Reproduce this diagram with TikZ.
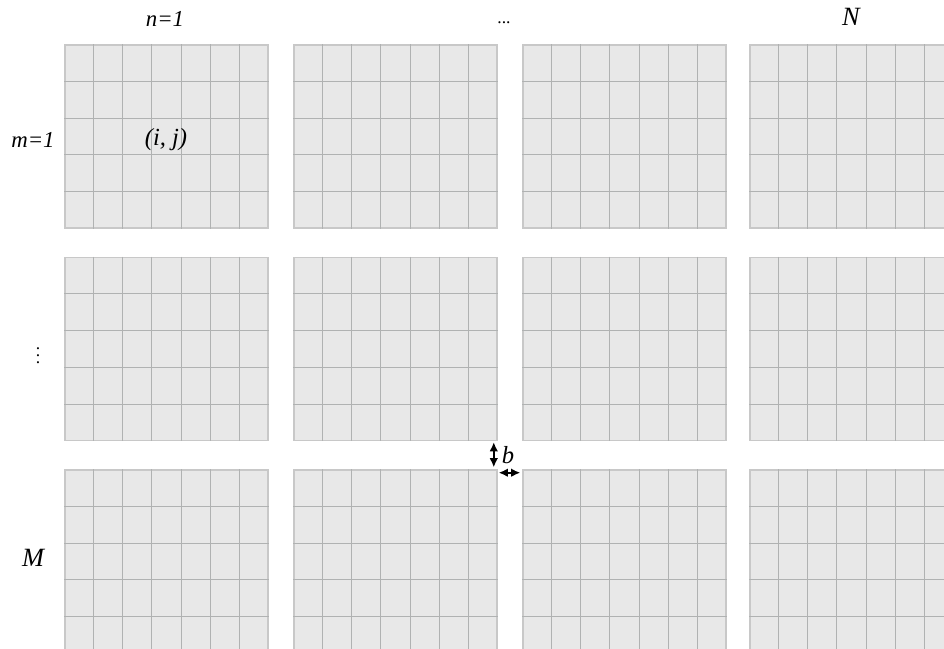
\documentclass[tikz,border=0pt]{standalone}
\usepackage{fontspec}
\setmainfont{Liberation Serif}[ItalicFont={Liberation Serif Italic}]
\usetikzlibrary{arrows.meta,positioning,calc}
\definecolor{cellfill}{RGB}{232,232,232}
\definecolor{cellgray}{RGB}{176,178,178}
\definecolor{panelgray}{RGB}{200,200,200}

\begin{document}
\begin{tikzpicture}[
    x=0.02cm, y=-0.02cm,
    panel/.style={draw=panelgray,fill=cellfill,line width=0.9pt,minimum width=4.06cm,minimum height=3.66cm,inner sep=0pt},
    gridline/.style={draw=cellgray,line width=0.55pt},
    lbl/.style={font=\itshape\fontsize{13}{15}\selectfont,inner sep=1pt},
    biglbl/.style={font=\itshape\fontsize{15}{18}\selectfont,inner sep=1pt},
    arrow/.style={{Latex[length=1.8mm,width=1.7mm]}-{Latex[length=1.8mm,width=1.7mm]},line width=0.9pt}
  ]
    \useasboundingbox (0,0) rectangle (944,649);
    \clip (0,0) rectangle (944,649);

    % 3 x 4 panels of 5 x 7 cells
    \foreach \r/\py in {1/136.5,2/349,3/561.5}
      \foreach \c/\px in {1/166.5,2/395.5,3/624.5,4/851.5} {
        \node[panel] (p\r\c) at (\px,\py) {};
        \foreach \k in {1,...,6}
          \draw[gridline] ($(p\r\c.north west)!\k/7!(p\r\c.north east)$) -- ($(p\r\c.south west)!\k/7!(p\r\c.south east)$);
        \foreach \k in {1,...,4}
          \draw[gridline] ($(p\r\c.north west)!\k/5!(p\r\c.south west)$) -- ($(p\r\c.north east)!\k/5!(p\r\c.south east)$);
      }

    % labels
    \node[lbl] (nfirst) at (165,19) {n=1};
    \node (hdots) at (504,23) {...};
    \node[biglbl] (nlast) at (851,17) {N};
    \node[lbl] (mfirst) at (33,140) {m=1};
    \node[biglbl] (mlast) at (33,558) {M};
    \node (vdots) at (38,350) {$\vdots$};
    \node[lbl,font=\itshape\fontsize{14}{16}\selectfont] (cell) at (166,140) {(i, j)};
    \node[lbl,font=\itshape\fontsize{14}{16}\selectfont] (gap) at (508,455) {b};

    % gap arrows
    \coordinate (vtop) at ($(p22.south east)+(-4,1)$);
    \coordinate (vbot) at ($(p32.north east)+(-4,-2)$);
    \coordinate (hleft) at ($(p32.north east)+(1,3.5)$);
    \coordinate (hright) at ($(p33.north west)+(-2,3.5)$);
    \draw[arrow] (vtop) -- (vbot);
    \draw[arrow] (hleft) -- (hright);
  \end{tikzpicture}
\end{document}
